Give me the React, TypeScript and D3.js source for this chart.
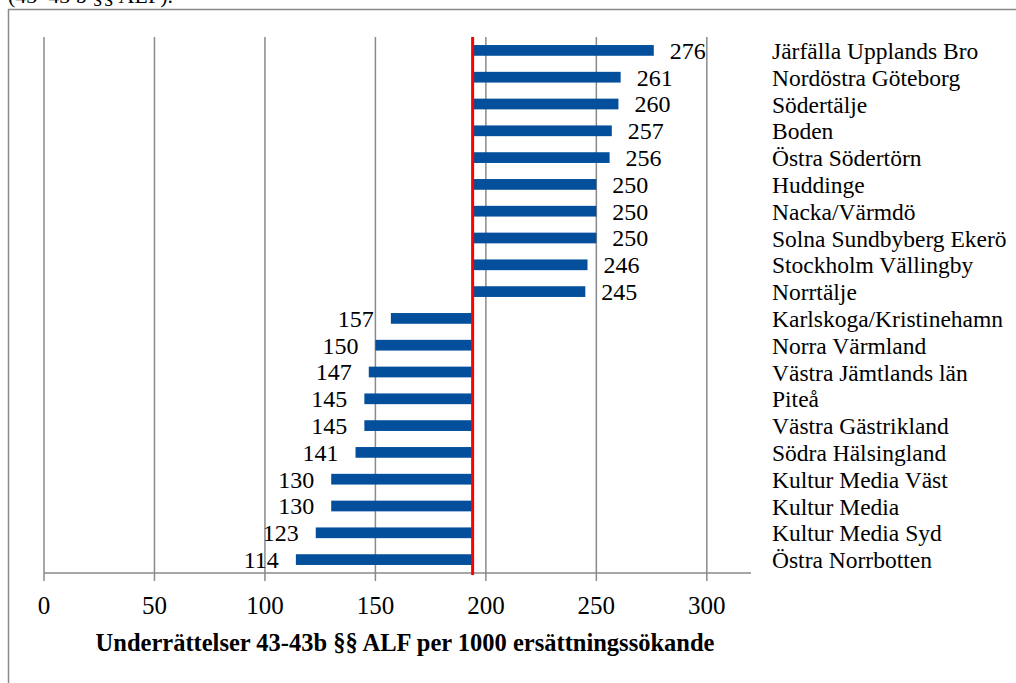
import React from "react";
import * as d3 from "d3";

const categories = [
  "Järfälla Upplands Bro",
  "Nordöstra Göteborg",
  "Södertälje",
  "Boden",
  "Östra Södertörn",
  "Huddinge",
  "Nacka/Värmdö",
  "Solna Sundbyberg Ekerö",
  "Stockholm Vällingby",
  "Norrtälje",
  "Karlskoga/Kristinehamn",
  "Norra Värmland",
  "Västra Jämtlands län",
  "Piteå",
  "Västra Gästrikland",
  "Södra Hälsingland",
  "Kultur Media Väst",
  "Kultur Media",
  "Kultur Media Syd",
  "Östra Norrbotten",
];
const values = [276, 261, 260, 257, 256, 250, 250, 250, 246, 245, 157, 150, 147, 145, 145, 141, 130, 130, 123, 114];
const baselineValue = 194;
const tickValues = [0, 50, 100, 150, 200, 250, 300];
const axisTitle = "Underrättelser 43-43b §§ ALF per 1000 ersättningssökande";
const topText = "(43–43 b §§ ALF).";

const W = 1016;
const H = 683;
const FONT = "'Liberation Serif', 'Times New Roman', serif";

export default function App() {
  const x = d3.scaleLinear().domain([0, 320]).range([44, 751]);
  const y = d3.scaleBand<string>().domain(categories).range([37, 573]).paddingInner(0.6).paddingOuter(0.3);
  const axisY = 573;
  const gridColor = "#8a8a8a";
  const bw = y.bandwidth();

  return (
    <svg width={W} height={H} style={{ position: "absolute", left: 0, top: 0, background: "#fff" }} fontFamily={FONT}>
      <text x={8} y={3} fontSize={22} fill="#000">{topText}</text>
      <line x1={8} y1={9.5} x2={W} y2={9.5} stroke={gridColor} strokeWidth={1.5} />
      <line x1={8.5} y1={9} x2={8.5} y2={H} stroke={gridColor} strokeWidth={1.5} />

      {tickValues.map((t) => (
        <g key={t}>
          <line x1={x(t)} x2={x(t)} y1={37} y2={axisY + 8} stroke={gridColor} strokeWidth={1.5} />
          <text x={x(t)} y={614} fontSize={25} textAnchor="middle" fill="#000">{t}</text>
        </g>
      ))}
      <line x1={x(0)} x2={751} y1={axisY} y2={axisY} stroke={gridColor} strokeWidth={1.5} />

      {categories.map((c, i) => {
        const v = values[i];
        const x0 = x(Math.min(v, baselineValue));
        const x1 = x(Math.max(v, baselineValue));
        const cy = (y(c) as number) + bw / 2;
        const pos = v >= baselineValue;
        return (
          <g key={c}>
            <rect x={x0} y={y(c)} width={x1 - x0} height={bw} fill="#034f9c" />
            <text
              x={pos ? x(v) + 16 : x(v) - 17}
              y={cy}
              dy="0.35em"
              fontSize={24}
              textAnchor={pos ? "start" : "end"}
              fill="#000"
            >
              {v}
            </text>
            <text x={772} y={cy} dy="0.37em" fontSize={23.5} fill="#000">{c}</text>
          </g>
        );
      })}

      <line x1={x(baselineValue)} x2={x(baselineValue)} y1={37} y2={axisY + 2} stroke="#ff0000" strokeWidth={3} />

      <text x={405} y={651} fontSize={24.5} fontWeight="bold" textAnchor="middle" fill="#000">{axisTitle}</text>
    </svg>
  );
}
